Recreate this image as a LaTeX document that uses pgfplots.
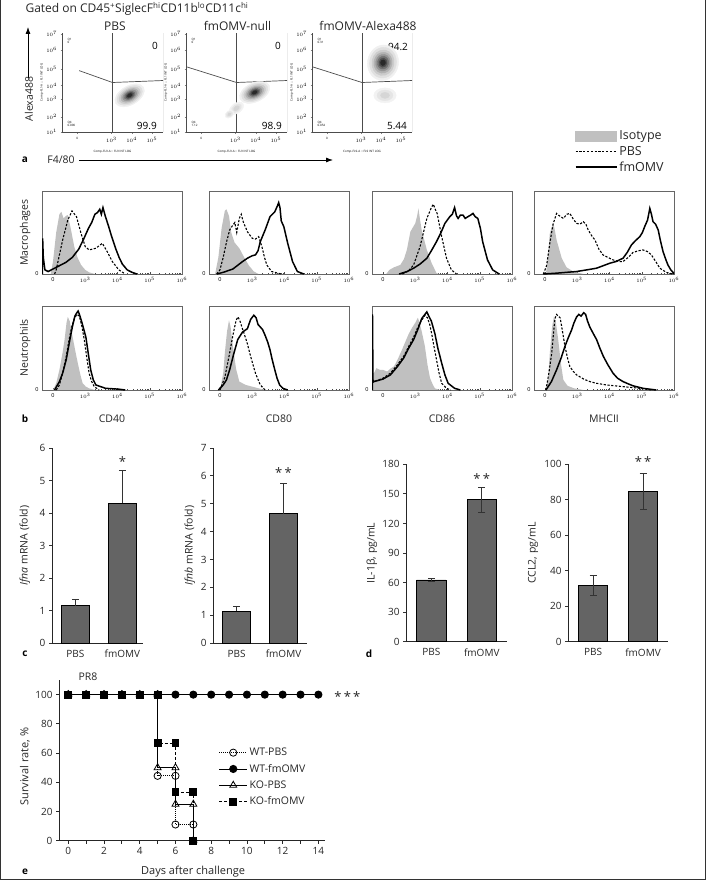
\documentclass[border=0pt]{standalone}
\usepackage{fontspec}
\setmainfont{Open Sans}
\usepackage{pgfplots}
\pgfplotsset{compat=1.18}
\usetikzlibrary{arrows.meta}
\definecolor{isofill}{RGB}{192,192,192}
\definecolor{barfill}{RGB}{100,100,100}
\tikzset{
  pbs/.style={black, line width=1.1pt, dash pattern=on 2.2pt off 1.6pt},
  fmo/.style={black, line width=1.5pt},
}
\newcommand{\blob}[5]{%
 \addplot[only marks, mark=*, color=black!6, mark size=#5, mark options={rotate=#3, xscale=#4}] coordinates {(#1,#2)};
 \addplot[only marks, mark=*, color=black!12, mark size=#5*0.86, mark options={rotate=#3, xscale=#4}] coordinates {(#1,#2)};
 \addplot[only marks, mark=*, color=black!20, mark size=#5*0.72, mark options={rotate=#3, xscale=#4}] coordinates {(#1,#2)};
 \addplot[only marks, mark=*, color=black!30, mark size=#5*0.59, mark options={rotate=#3, xscale=#4}] coordinates {(#1,#2)};
 \addplot[only marks, mark=*, color=black!42, mark size=#5*0.47, mark options={rotate=#3, xscale=#4}] coordinates {(#1,#2)};
 \addplot[only marks, mark=*, color=black!56, mark size=#5*0.36, mark options={rotate=#3, xscale=#4}] coordinates {(#1,#2)};
 \addplot[only marks, mark=*, color=black!70, mark size=#5*0.26, mark options={rotate=#3, xscale=#4}] coordinates {(#1,#2)};
 \addplot[only marks, mark=*, color=black!84, mark size=#5*0.16, mark options={rotate=#3, xscale=#4}] coordinates {(#1,#2)};
}
\newcommand{\lightblob}[5]{%
 \addplot[only marks, mark=*, color=black!5, mark size=#5, mark options={rotate=#3, xscale=#4}] coordinates {(#1,#2)};
 \addplot[only marks, mark=*, color=black!10, mark size=#5*0.7, mark options={rotate=#3, xscale=#4}] coordinates {(#1,#2)};
 \addplot[only marks, mark=*, color=black!16, mark size=#5*0.4, mark options={rotate=#3, xscale=#4}] coordinates {(#1,#2)};
}
\pgfplotsset{
  every axis/.append style={/pgf/number format/assume math mode=true},
  hist/.style={scale only axis, anchor=south west, width=140pt, height=83pt,
    xmin=1.66, xmax=6, ymin=0, ymax=1,
    xtick={2,3,4,5,6}, xticklabels={0,$10^3$,$10^4$,$10^5$,$10^6$},
    minor xtick={2.3,2.5,2.7,3.301,3.477,3.602,3.699,3.778,3.845,3.903,3.954,4.301,4.477,4.602,4.699,4.778,4.845,4.903,4.954,5.301,5.477,5.602,5.699,5.778,5.845,5.903,5.954},
    ytick={0}, tick align=inside, xtick pos=bottom, ytick pos=left,
    major tick length=2.5pt, minor tick length=1.5pt,
    tick label style={font=\fontsize{5.5}{6}\selectfont},
    axis line style={black!60, line width=0.7pt},
    tick style={black!70},
    label style={font=\fontsize{10.5}{12}\selectfont, black!85}},
  dens/.style={scale only axis, anchor=south west, width=101pt, height=99pt,
    xmin=0, xmax=100, ymin=0, ymax=100,
    axis x line*=bottom, axis y line*=left,
    xtick={15,49,69,89}, xticklabels={0,$10^3$,$10^4$,$10^5$},
    ytick={0,15,33,47,64,83,99}, yticklabels={$10^1$,$10^2$,$10^3$,$10^4$,$10^5$,$10^6$,$10^7$},
    tick align=outside, major tick length=1.5pt,
    tick label style={font=\fontsize{3}{3}\selectfont},
    axis line style={black!70, line width=0.6pt},
    xlabel={Comp-FL9-A :: FL9 INT LOG}, ylabel={Comp-FL1-A :: FL1 INT LOG},
    label style={font=\fontsize{3}{3.5}\selectfont},
    xlabel style={at={(axis description cs:0.5,-0.2)}, anchor=center},
    ylabel style={at={(axis description cs:-0.2,0.5)}, anchor=center},
    every axis title/.style={at={(axis description cs:0.5,1)}, anchor=center, yshift=7pt, font=\fontsize{12}{13}\selectfont, black!85}},
  barax/.style={scale only axis, anchor=south west, ybar, bar width=0.58,
    axis x line*=bottom, axis y line*=left, xtick={0,1}, xticklabels={PBS,fmOMV},
    xmin=-0.5, xmax=1.5, ymin=0,
    x tick style={draw=none}, tick align=outside, major tick length=3pt,
    y tick style={black!80, line width=0.8pt},
    axis line style={black!85, line width=0.8pt},
    tick label style={font=\fontsize{10}{11}\selectfont, black!85},
    xticklabel style={yshift=-0.5pt},
    label style={font=\fontsize{10.5}{12}\selectfont, black!85}, clip=false},
  barplot/.style={fill=barfill, draw=black, line width=0.8pt,
    error bars/y explicit, error bars/error bar style={black!80, line width=0.8pt},
    error bars/error mark options={rotate=90, mark size=3.5pt, line width=0.8pt, black!80}},
}
\begin{document}
\begin{tikzpicture}
\path[use as bounding box] (0pt,0pt) rectangle (708pt,-880pt);
\draw[line width=1pt, black!80] (0.5pt,0pt) -- (0.5pt,-879.5pt) -- (705.5pt,-879.5pt) -- (705.5pt,0pt);

% ---------------- panel a ----------------
\node[anchor=west, font=\fontsize{12}{13}\selectfont, black!85] at (22pt,-9pt)
  {Gated on CD45\textsuperscript{+}SiglecF\textsuperscript{hi}CD11b\textsuperscript{lo}CD11c\textsuperscript{hi}};
\draw[line width=0.8pt, -{Latex[length=7pt,width=5pt]}] (28pt,-78pt) -- (28pt,-27pt);
\node[rotate=90, font=\fontsize{10.5}{12}\selectfont, black!85] at (29pt,-99pt) {Alexa488};
\node[font=\bfseries\fontsize{10}{11}\selectfont] at (25pt,-160pt) {a};
\node[font=\fontsize{10.5}{12}\selectfont, black!85] at (61pt,-160pt) {F4/80};
\draw[line width=0.8pt, -{Latex[length=7pt,width=5pt]}] (79pt,-160pt) -- (333pt,-160pt);

\begin{axis}[dens, at={(62pt,-132pt)}, title={PBS}, title style={at={(axis description cs:0.525,1)}}]
\blob{67}{37}{30}{1.7}{9.5pt}
\addplot[black!70, line width=0.7pt] coordinates {(50,0)(50,100)};
\addplot[black!70, line width=0.7pt] coordinates {(17,62)(50,50)(100,52)};
\addplot[black!60, line width=0.6pt] coordinates {(100,0)(100,100)};
\node[font=\fontsize{10}{11}\selectfont] at (axis cs:92,87) {0};
\node[font=\fontsize{10}{11}\selectfont] at (axis cs:84,6) {99.9};
\node[font=\fontsize{3}{3.5}\selectfont, anchor=west, align=left] at (axis cs:2,92) {Q1\\0};
\node[font=\fontsize{3}{3.5}\selectfont, anchor=west, align=left] at (axis cs:2,8) {Q4\\0.090};
\end{axis}

\begin{axis}[dens, at={(186pt,-132pt)}, title={fmOMV-null}, title style={at={(axis description cs:0.51,1)}}]
\lightblob{50}{24}{35}{1.6}{5pt}
\lightblob{43}{18}{35}{1.4}{3.5pt}
\blob{68}{40}{25}{1.7}{9.5pt}
\addplot[black!70, line width=0.7pt] coordinates {(50,0)(50,100)};
\addplot[black!70, line width=0.7pt] coordinates {(0,66)(50,50)(100,52)};
\addplot[black!60, line width=0.6pt] coordinates {(100,0)(100,100)};
\node[font=\fontsize{10}{11}\selectfont] at (axis cs:91,87) {0};
\node[font=\fontsize{10}{11}\selectfont] at (axis cs:85,6) {98.9};
\node[font=\fontsize{3}{3.5}\selectfont, anchor=west, align=left] at (axis cs:2,92) {Q1\\0};
\node[font=\fontsize{3}{3.5}\selectfont, anchor=west, align=left] at (axis cs:2,8) {Q4\\1.12};
\end{axis}

\begin{axis}[dens, at={(312pt,-132pt)}, width=100pt, title={fmOMV-Alexa488}, title style={at={(axis description cs:0.56,1)}}]
\lightblob{73}{37}{0}{1.5}{7.5pt}
\blob{71}{70}{80}{1.15}{15.5pt}
\addplot[black!70, line width=0.7pt] coordinates {(50,0)(50,100)};
\addplot[black!70, line width=0.7pt] coordinates {(0,66)(50,50)(100,52)};
\addplot[black!60, line width=0.6pt] coordinates {(100,0)(100,100)};
\node[font=\fontsize{10}{11}\selectfont] at (axis cs:86,86) {94.2};
\node[font=\fontsize{10}{11}\selectfont] at (axis cs:85,6) {5.44};
\node[font=\fontsize{3}{3.5}\selectfont, anchor=west, align=left] at (axis cs:2,92) {Q1\\0.31};
\node[font=\fontsize{3}{3.5}\selectfont, anchor=west, align=left] at (axis cs:2,8) {Q4\\0.054};
\end{axis}

% ---------------- panel b ----------------
\node[font=\bfseries\fontsize{10}{11}\selectfont] at (25pt,-419pt) {b};

\begin{axis}[hist, at={(42pt,-274pt)}, ylabel={Macrophages},
  ylabel style={at={(axis description cs:-0.12,0.5)}, anchor=center}]
\addplot[fill=isofill, draw=none] coordinates {(1.93,0)(2.0,0.15)(2.1,0.5)(2.2,0.72)(2.26,0.75)(2.33,0.67)(2.4,0.7)(2.46,0.71)(2.55,0.55)(2.66,0.33)(2.76,0.2)(2.87,0.11)(3.0,0.05)(3.12,0.02)(3.3,0)} \closedcycle;
\addplot[pbs] coordinates {(2.05,0)(2.1,0.05)(2.3,0.41)(2.46,0.65)(2.59,0.76)(2.73,0.69)(2.87,0.49)(3.0,0.33)(3.12,0.29)(3.33,0.31)(3.53,0.37)(3.68,0.27)(3.84,0.15)(4.04,0.05)(4.24,0)};
\addplot[fmo] coordinates {(1.67,0)(1.68,0.43)(1.7,0.2)(1.75,0.05)(1.85,0.03)(2.0,0.06)(2.2,0.1)(2.4,0.14)(2.6,0.2)(2.8,0.3)(2.95,0.42)(3.1,0.55)(3.2,0.62)(3.3,0.72)(3.38,0.74)(3.45,0.78)(3.5,0.72)(3.55,0.8)(3.62,0.7)(3.72,0.58)(3.82,0.45)(3.95,0.3)(4.05,0.2)(4.15,0.12)(4.3,0.05)(4.45,0.02)(4.6,0)};
\end{axis}

\begin{axis}[hist, at={(209pt,-274pt)}]
\addplot[fill=isofill, draw=none] coordinates {(1.85,0)(1.95,0.2)(2.05,0.55)(2.15,0.76)(2.2,0.78)(2.28,0.7)(2.35,0.5)(2.45,0.38)(2.6,0.31)(2.75,0.2)(2.9,0.1)(3.05,0.03)(3.2,0)} \closedcycle;
\addplot[pbs] coordinates {(1.9,0)(2.0,0.05)(2.1,0.2)(2.2,0.38)(2.3,0.53)(2.4,0.59)(2.46,0.62)(2.52,0.5)(2.6,0.67)(2.66,0.72)(2.72,0.63)(2.85,0.51)(3.0,0.43)(3.1,0.42)(3.2,0.45)(3.3,0.33)(3.38,0.2)(3.45,0.11)(3.6,0.03)(3.8,0.01)(3.9,0)};
\addplot[fmo] coordinates {(1.9,0)(2.1,0.02)(2.4,0.06)(2.7,0.15)(2.85,0.19)(3.0,0.22)(3.1,0.23)(3.18,0.28)(3.25,0.39)(3.4,0.53)(3.55,0.69)(3.7,0.75)(3.78,0.82)(3.82,0.86)(3.86,0.8)(3.9,0.64)(3.98,0.57)(4.1,0.37)(4.25,0.15)(4.4,0.03)(4.6,0)};
\end{axis}

\begin{axis}[hist, at={(372pt,-274pt)}]
\addplot[fill=isofill, draw=none] coordinates {(2.1,0)(2.2,0.05)(2.34,0.08)(2.54,0.11)(2.65,0.18)(2.74,0.29)(2.85,0.51)(3.0,0.61)(3.06,0.7)(3.1,0.79)(3.15,0.65)(3.2,0.53)(3.36,0.29)(3.51,0.13)(3.66,0.01)(3.75,0)} \closedcycle;
\addplot[pbs] coordinates {(2.6,0)(2.8,0.04)(2.95,0.11)(3.15,0.33)(3.36,0.67)(3.5,0.8)(3.56,0.84)(3.62,0.78)(3.68,0.73)(3.82,0.45)(3.97,0.19)(4.12,0.05)(4.28,0)};
\addplot[fmo] coordinates {(2.5,0)(2.75,0.03)(2.95,0.07)(3.15,0.12)(3.36,0.19)(3.5,0.28)(3.66,0.39)(3.8,0.5)(3.92,0.61)(4.07,0.69)(4.15,0.72)(4.22,0.8)(4.28,0.7)(4.33,0.67)(4.4,0.71)(4.48,0.71)(4.55,0.67)(4.63,0.69)(4.72,0.71)(4.79,0.73)(4.86,0.69)(4.94,0.67)(5.02,0.55)(5.09,0.39)(5.24,0.17)(5.4,0.05)(5.6,0)};
\end{axis}

\begin{axis}[hist, at={(534pt,-274pt)},
  legend style={at={(axis description cs:0.29,1.755)}, anchor=north west, draw=none, fill=none,
    font=\fontsize{12.5}{13}\selectfont, row sep=1pt, inner sep=0pt, text=black!85},
  legend cell align=left]
\addlegendimage{legend image code/.code={\fill[isofill] (0pt,-5pt) rectangle (41pt,5pt);}}
\addlegendentry{Isotype}
\addlegendimage{legend image code/.code={\draw[pbs] (0pt,0pt) -- (41pt,0pt);}}
\addlegendentry{PBS}
\addlegendimage{legend image code/.code={\draw[fmo] (0pt,0pt) -- (41pt,0pt);}}
\addlegendentry{fmOMV}
\addplot[fill=isofill, draw=none, forget plot] coordinates {(2.03,0)(2.1,0.25)(2.15,0.49)(2.2,0.55)(2.26,0.61)(2.31,0.52)(2.36,0.41)(2.52,0.19)(2.67,0.08)(2.88,0.03)(3.2,0)} \closedcycle;
\addplot[pbs, forget plot] coordinates {(1.95,0)(2.05,0.1)(2.15,0.37)(2.25,0.6)(2.36,0.73)(2.45,0.7)(2.57,0.67)(2.68,0.72)(2.77,0.73)(2.88,0.66)(2.98,0.61)(3.08,0.6)(3.19,0.63)(3.27,0.6)(3.34,0.53)(3.45,0.46)(3.55,0.41)(3.67,0.3)(3.8,0.23)(3.95,0.2)(4.11,0.17)(4.3,0.15)(4.42,0.15)(4.58,0.2)(4.73,0.26)(4.9,0.28)(5.04,0.29)(5.18,0.27)(5.3,0.23)(5.45,0.14)(5.56,0.07)(5.76,0.02)(5.95,0)};
\addplot[fmo, forget plot] coordinates {(1.95,0)(2.36,0.01)(2.98,0.03)(3.3,0.05)(3.6,0.07)(4.01,0.13)(4.2,0.15)(4.42,0.19)(4.55,0.26)(4.68,0.35)(4.8,0.4)(4.94,0.45)(5.02,0.5)(5.09,0.57)(5.18,0.65)(5.25,0.79)(5.3,0.72)(5.35,0.63)(5.43,0.6)(5.51,0.53)(5.58,0.4)(5.66,0.27)(5.75,0.17)(5.81,0.11)(5.9,0.05)(5.97,0.02)(6,0)};
\end{axis}

\begin{axis}[hist, at={(42pt,-390pt)}, height=84pt, ylabel={Neutrophils},
  ylabel style={at={(axis description cs:-0.12,0.5)}, anchor=center},
  xlabel={CD40}, xlabel style={at={(axis description cs:0.5,-0.345)}, anchor=center}]
\addplot[fill=isofill, draw=none] coordinates {(2.0,0)(2.1,0.08)(2.2,0.24)(2.3,0.45)(2.36,0.6)(2.42,0.8)(2.46,0.87)(2.52,0.82)(2.61,0.63)(2.7,0.45)(2.77,0.32)(2.85,0.18)(2.92,0.08)(3.02,0.04)(3.12,0.02)(3.3,0)} \closedcycle;
\addplot[pbs] coordinates {(2.1,0)(2.2,0.06)(2.3,0.2)(2.41,0.4)(2.5,0.6)(2.58,0.75)(2.66,0.85)(2.74,0.9)(2.82,0.88)(2.9,0.75)(2.97,0.6)(3.05,0.38)(3.12,0.2)(3.2,0.1)(3.28,0.04)(3.43,0)};
\addplot[fmo] coordinates {(2.05,0)(2.2,0.1)(2.3,0.2)(2.41,0.36)(2.5,0.55)(2.6,0.75)(2.68,0.88)(2.74,0.92)(2.78,0.94)(2.82,0.9)(2.9,0.8)(3.02,0.63)(3.1,0.42)(3.17,0.24)(3.25,0.12)(3.33,0.06)(3.63,0.02)(4.04,0.01)(4.24,0)};
\end{axis}

\begin{axis}[hist, at={(209pt,-390pt)}, height=84pt,
  xlabel={CD80}, xlabel style={at={(axis description cs:0.5,-0.345)}, anchor=center}]
\addplot[fill=isofill, draw=none] coordinates {(2.0,0)(2.1,0.2)(2.15,0.44)(2.22,0.7)(2.28,0.83)(2.33,0.75)(2.4,0.52)(2.5,0.25)(2.6,0.1)(2.8,0.06)(3.0,0.04)(3.4,0)} \closedcycle;
\addplot[pbs] coordinates {(2.0,0)(2.15,0.15)(2.3,0.44)(2.4,0.65)(2.5,0.83)(2.56,0.87)(2.62,0.82)(2.68,0.75)(2.75,0.67)(2.85,0.55)(2.95,0.4)(3.1,0.2)(3.25,0.06)(3.4,0)};
\addplot[fmo] coordinates {(1.95,0)(2.1,0.06)(2.2,0.12)(2.3,0.24)(2.42,0.42)(2.55,0.6)(2.7,0.69)(2.85,0.73)(2.95,0.84)(3.05,0.89)(3.12,0.86)(3.18,0.78)(3.25,0.75)(3.32,0.72)(3.4,0.65)(3.48,0.57)(3.55,0.48)(3.62,0.36)(3.7,0.24)(3.77,0.14)(3.85,0.06)(3.95,0.02)(4.1,0)};
\end{axis}

\begin{axis}[hist, at={(372pt,-390pt)}, height=84pt,
  xlabel={CD86}, xlabel style={at={(axis description cs:0.5,-0.345)}, anchor=center}]
\addplot[fill=isofill, draw=none] coordinates {(1.66,0.2)(1.72,0.2)(1.8,0.26)(1.9,0.24)(2.0,0.24)(2.13,0.22)(2.25,0.26)(2.34,0.28)(2.45,0.36)(2.59,0.48)(2.7,0.58)(2.8,0.67)(2.9,0.74)(3.0,0.8)(3.08,0.86)(3.12,0.82)(3.2,0.7)(3.3,0.52)(3.38,0.3)(3.46,0.14)(3.55,0.06)(3.61,0.02)(3.77,0)} \closedcycle;
\addplot[pbs] coordinates {(1.66,0.08)(1.72,0.1)(2.0,0.14)(2.23,0.2)(2.45,0.3)(2.64,0.4)(2.8,0.52)(2.95,0.63)(3.05,0.72)(3.15,0.8)(3.25,0.86)(3.3,0.89)(3.38,0.86)(3.45,0.78)(3.51,0.67)(3.58,0.52)(3.66,0.36)(3.74,0.2)(3.82,0.08)(3.97,0.02)(4.1,0)};
\addplot[fmo] coordinates {(1.67,0)(1.675,0.9)(1.69,0.12)(1.72,0.1)(2.0,0.13)(2.23,0.18)(2.45,0.28)(2.64,0.38)(2.8,0.5)(2.95,0.6)(3.1,0.74)(3.2,0.85)(3.3,0.9)(3.36,0.93)(3.42,0.88)(3.5,0.82)(3.61,0.67)(3.7,0.5)(3.82,0.32)(3.92,0.18)(4.02,0.08)(4.22,0.02)(4.4,0)};
\end{axis}

\begin{axis}[hist, at={(534pt,-390pt)}, height=84pt,
  xlabel={MHCII}, xlabel style={at={(axis description cs:0.5,-0.345)}, anchor=center}]
\addplot[fill=isofill, draw=none] coordinates {(2.03,0)(2.1,0.15)(2.15,0.44)(2.22,0.75)(2.28,0.88)(2.34,0.8)(2.41,0.6)(2.5,0.3)(2.57,0.12)(2.7,0.05)(2.9,0.02)(3.2,0)} \closedcycle;
\addplot[pbs] coordinates {(2.03,0)(2.12,0.2)(2.21,0.44)(2.27,0.7)(2.31,0.85)(2.36,0.9)(2.41,0.88)(2.47,0.86)(2.52,0.75)(2.62,0.52)(2.7,0.38)(2.77,0.28)(2.88,0.22)(2.98,0.18)(3.2,0.13)(3.39,0.1)(3.6,0.08)(3.91,0.06)(4.42,0.04)(4.94,0.02)(5.3,0)};
\addplot[fmo] coordinates {(2.03,0)(2.2,0.1)(2.36,0.24)(2.5,0.38)(2.62,0.52)(2.72,0.62)(2.82,0.71)(2.9,0.8)(2.98,0.87)(3.05,0.9)(3.12,0.88)(3.2,0.92)(3.26,0.9)(3.32,0.82)(3.39,0.75)(3.5,0.67)(3.6,0.6)(3.7,0.5)(3.81,0.4)(3.95,0.3)(4.11,0.2)(4.25,0.14)(4.42,0.1)(4.6,0.07)(4.73,0.05)(5.04,0.02)(5.45,0)};
\end{axis}

% ---------------- panel c ----------------
\node[font=\bfseries\fontsize{10}{11}\selectfont] at (25pt,-654pt) {c};
\begin{axis}[barax, at={(52pt,-643pt)}, width=91pt, height=195pt, xmax=1.44,
  ymax=6, ytick={0,1,...,6},
  ylabel={\textit{Ifna} mRNA (fold)},
  ylabel style={at={(axis description cs:-0.297,0.5)}, anchor=center}]
\addplot[barplot, error bars/y dir=plus] coordinates {(0,1.15) +- (0,0.18) (1,4.3) +- (0,1.0)};
\node[font=\fontsize{13}{14}\selectfont, black!85] at (axis cs:1,5.58) {*};
\end{axis}
\begin{axis}[barax, at={(213pt,-643pt)}, width=94pt, height=195pt,
  ymax=7, ytick={0,1,...,7},
  ylabel={\textit{Ifnb} mRNA (fold)},
  ylabel style={at={(axis description cs:-0.245,0.5)}, anchor=center}]
\addplot[barplot, error bars/y dir=plus] coordinates {(0,1.14) +- (0,0.17) (1,4.64) +- (0,1.09)};
\node[font=\fontsize{13}{14}\selectfont, black!85] at (axis cs:1,6.12) {*\,*};
\end{axis}

% ---------------- panel d ----------------
\node[font=\bfseries\fontsize{10}{11}\selectfont] at (369pt,-654pt) {d};
\begin{axis}[barax, at={(406pt,-641.7pt)}, width=101pt, height=177.4pt,
  ymax=180, ytick={0,30,...,180},
  ylabel={IL-1β, pg/mL},
  ylabel style={at={(axis description cs:-0.337,0.5)}, anchor=center}]
\addplot[barplot, error bars/y dir=both] coordinates {(0,62.7) +- (0,1.8) (1,144) +- (0,12.5)};
\node[font=\fontsize{13}{14}\selectfont, black!85] at (axis cs:1,166) {*\,*};
\end{axis}
\begin{axis}[barax, at={(568pt,-641.7pt)}, width=100pt, height=177.4pt,
  ymax=100, ytick={0,20,...,100},
  ylabel={CCL2, pg/mL},
  ylabel style={at={(axis description cs:-0.35,0.5)}, anchor=center}]
\addplot[barplot, error bars/y dir=both] coordinates {(0,31.6) +- (0,5.6) (1,84.6) +- (0,10)};
\node[font=\fontsize{13}{14}\selectfont, black!85] at (axis cs:1,101.5) {*\,*};
\end{axis}

% ---------------- panel e ----------------
\node[font=\bfseries\fontsize{10}{11}\selectfont] at (25pt,-872pt) {e};
\node[font=\fontsize{10.5}{12}\selectfont, black!85] at (88pt,-677pt) {PR8};
\begin{axis}[scale only axis, anchor=south west, at={(59pt,-840.7pt)}, width=266pt, height=160.7pt,
  xmin=-0.52, xmax=14.37, ymin=0, ymax=110,
  axis x line*=bottom, axis y line*=left,
  xtick={0,2,...,14}, minor xtick={1,3,...,13}, ytick={0,20,...,100},
  tick align=outside, major tick length=3pt, minor tick length=3pt,
  tick style={black!85, line width=0.8pt},
  axis line style={black!85, line width=0.8pt},
  tick label style={font=\fontsize{10}{11}\selectfont, black!85},
  label style={font=\fontsize{11}{12}\selectfont, black!85},
  xlabel={Days after challenge},
  xlabel style={at={(axis description cs:0.504,-0.19)}, anchor=center},
  ylabel={Survival rate, \%},
  ylabel style={at={(axis description cs:-0.128,0.46)}, anchor=center},
  clip=false,
  legend style={at={(axis description cs:0.6,0.59)}, anchor=north west, draw=none, fill=none,
    font=\fontsize{10.5}{11}\selectfont, row sep=3pt, inner sep=0pt, text=black!85},
  legend cell align=left,
  legend image code/.code={\draw[mark repeat=2, mark phase=2, #1] plot coordinates {(0pt,0pt) (14pt,0pt) (28pt,0pt)};}]
\addplot[black, line width=0.9pt, dash pattern=on 1pt off 1pt, mark=o, mark size=3.6pt, mark options={solid, fill=white, line width=0.8pt}]
  coordinates {(0,100)(1,100)(2,100)(3,100)(4,100)(5,100)(5,44.4)(6,44.4)(6,11.1)(7,11.1)(7,0)};
\addlegendentry{WT-PBS}
\addplot[black, line width=0.9pt, mark=*, mark size=3.6pt, mark options={solid}]
  coordinates {(0,100)(1,100)(2,100)(3,100)(4,100)(5,100)(6,100)(7,100)(8,100)(9,100)(10,100)(11,100)(12,100)(13,100)(14,100)};
\addlegendentry{WT-fmOMV}
\addplot[black, line width=0.9pt, mark=triangle, mark size=4pt, mark options={solid, fill=white, line width=0.8pt}]
  coordinates {(0,100)(1,100)(2,100)(3,100)(4,100)(5,100)(5,50)(6,50)(6,25)(7,25)(7,0)};
\addlegendentry{KO-PBS}
\addplot[black, line width=0.9pt, dash pattern=on 3pt off 2pt, mark=square*, mark size=3.4pt, mark options={solid}]
  coordinates {(0,100)(1,100)(2,100)(3,100)(4,100)(5,100)(5,66.7)(6,66.7)(6,33.3)(7,33.3)(7,0)};
\addlegendentry{KO-fmOMV}
\node[font=\fontsize{13}{14}\selectfont, black!85, anchor=west] at (axis cs:14.7,99) {*\,*\,*};
\end{axis}
\end{tikzpicture}
\end{document}
